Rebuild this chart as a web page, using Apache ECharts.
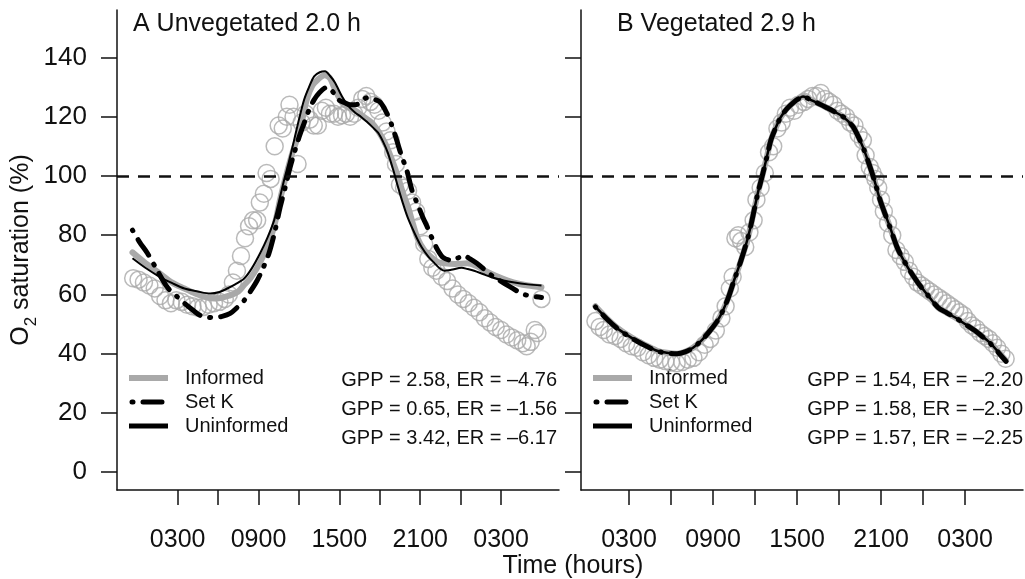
<!DOCTYPE html>
<html><head><meta charset="utf-8">
<script src="https://cdn.jsdelivr.net/npm/echarts@6/dist/echarts.min.js"></script>
<style>html,body{margin:0;padding:0;background:#fff}#c{width:1025px;height:579px}</style>
</head><body><div id="c"></div>
<script>
// ---------- data ----------
const xTickValues = [3, 6, 9, 12, 15, 18, 21, 24, 27];
const xLabelValues = [3, 9, 15, 21, 27];
const xLabelText = ['0300', '0900', '1500', '2100', '0300'];
const yTickValues = [0, 20, 40, 60, 80, 100, 120, 140];
const panelTitles = ['A Unvegetated 2.0 h', 'B Vegetated 2.9 h'];
const legendNames = ['Informed', 'Set K', 'Uninformed'];
const statsA = ['GPP = 2.58, ER = \u20134.76', 'GPP = 0.65, ER = \u20131.56', 'GPP = 3.42, ER = \u20136.17'];
const statsB = ['GPP = 1.54, ER = \u20132.20', 'GPP = 1.58, ER = \u20132.30', 'GPP = 1.57, ER = \u20132.25'];
const saturationLine = 100;

// Panel A observations [hour, O2 %]
const aObs = [[-0.3,65.5],[0.1,65],[0.5,64],[0.9,63],[1.3,62],[1.7,59.5],[2.1,58],[2.5,57],[2.9,58],[3.3,57.5],[3.7,56.5],[4.1,56],[4.5,55.5],[4.9,55.8],[5.3,56.5],[5.7,57],[6.1,57.5],[6.5,58.5],[6.8,60],[7.1,64],[7.4,68],[7.7,73],[8.0,79],[8.3,83],[8.6,85],[8.9,85],[9.1,91],[9.4,94],[9.6,101],[9.9,99],[10.2,110],[10.5,117],[10.8,116],[11.1,120],[11.3,124],[11.6,120],[11.9,104],[12.2,118],[12.5,121],[12.8,119],[13.1,117],[13.4,117],[13.7,122],[14.0,123],[14.3,121],[14.6,121],[14.9,120],[15.2,120.5],[15.5,121],[15.8,120],[16.1,121],[16.4,123],[16.7,126],[17.0,127],[17.3,125],[17.6,124],[17.9,122],[18.2,118],[18.5,115],[18.8,112],[19.0,108],[19.2,104],[19.5,97],[19.8,96],[20.1,95],[20.4,91],[20.7,88],[21.0,83],[21.3,77],[21.6,72],[21.9,69],[22.2,68],[22.6,66],[23.0,64.5],[23.4,62],[23.8,60],[24.2,58.5],[24.6,57],[25.0,55.5],[25.4,54],[25.8,52],[26.2,50.5],[26.6,49],[27.0,48],[27.4,46.5],[27.8,45.5],[28.2,44.5],[28.6,43.5],[28.9,42.5],[29.2,44],[29.5,48],[29.7,47],[30.0,58.5]];
const aInformed = [[-0.35,74.2],[0.5,71],[1.7,67],[2.6,64],[3.5,62],[4.3,60.3],[5.0,59.2],[5.9,58.6],[6.9,59.7],[7.5,61],[7.9,63],[8.4,65.5],[8.9,69],[9.4,73.5],[9.9,79],[10.3,85.5],[10.6,92],[11.1,101],[11.5,107.5],[11.9,113],[12.3,120],[12.6,126],[13.0,130.5],[13.4,132.5],[13.9,134],[14.3,133],[14.6,130],[15.2,124.7],[15.7,123],[16.2,122],[16.8,120],[17.4,118],[17.9,115],[18.4,111],[18.9,105.5],[19.35,99.7],[19.7,94.5],[20.1,89.5],[20.45,84],[20.8,79],[21.3,75],[21.85,72.5],[22.3,71],[22.8,70.5],[23.6,70.3],[24.5,70.5],[25.2,69.5],[25.8,68],[26.6,66.3],[27.5,64.7],[28.3,63.6],[29.0,63],[30.0,62.4]];
const aSetK = [[-0.35,81.7],[0.2,77.5],[0.76,73.9],[1.5,68],[2.24,62.4],[2.9,59.5],[3.5,57],[4.1,54.8],[4.68,52.9],[5.2,52.3],[5.72,52.2],[6.3,52.6],[6.9,53.6],[7.4,55.5],[7.94,58],[8.4,61],[8.9,64.7],[9.35,69],[9.78,73.9],[10.2,81],[10.61,89.5],[11.0,96.5],[11.35,103],[11.7,108.5],[12.02,113.2],[12.4,118],[12.76,122.4],[13.1,125.5],[13.5,128],[14.1,130],[14.67,127.5],[15.0,125.5],[15.4,124.7],[15.8,124],[16.2,124],[16.6,125],[17.05,126.4],[17.5,126],[18.0,125],[18.5,121.4],[18.9,117],[19.26,112],[19.6,107],[20.0,102],[20.4,95],[20.8,90.5],[21.2,86],[21.6,82],[21.94,78.3],[22.3,75],[22.7,72.5],[23.35,71.5],[23.8,72.3],[24.2,73.2],[24.7,72],[25.2,70.5],[25.8,68.3],[26.3,66.4],[27.26,63.7],[27.9,62],[28.5,60.3],[29.2,59.5],[30.0,59]];
const aUninformed = [[-0.35,72.2],[0.6,69],[1.72,65.8],[2.6,63.8],[3.5,62],[4.5,61],[5.42,60.3],[6.1,60.8],[6.68,62],[7.3,63.5],[7.94,65.4],[8.5,68.8],[9.13,74],[9.65,79],[10.16,85],[10.5,91],[10.9,98.6],[11.27,105],[11.64,112],[12.0,119],[12.39,125.8],[12.75,130],[13.13,133.6],[13.55,135],[13.94,135.3],[14.3,133.8],[14.67,131.5],[15.2,126.8],[15.6,124],[16.16,121.4],[16.6,120],[17.1,118],[17.5,116.3],[17.87,114.6],[18.25,111.5],[18.6,107.8],[19.0,102],[19.35,96.3],[19.7,91],[20.07,86],[20.6,80.5],[21.1,76],[21.6,72.8],[22.07,70.5],[22.4,69],[22.8,68],[23.3,68.3],[24.08,69],[24.5,68.6],[25.0,68],[25.7,66.8],[26.3,65.8],[27.1,64.8],[28.0,64],[29.0,63.4],[30.0,63]];

// Panel B observations [hour, O2 %]
const bObs = [[0.6,51],[0.9,49],[1.2,48],[1.6,46.5],[2.0,46],[2.4,45],[2.8,43.5],[3.2,42.5],[3.6,42],[4.0,40.5],[4.4,39.5],[4.8,38.6],[5.2,38],[5.6,37.5],[6.0,37],[6.4,36.8],[6.8,37.2],[7.2,38],[7.6,38.6],[8.0,40.5],[8.4,43],[8.8,45],[9.2,47.8],[9.6,52],[9.9,56],[10.2,62],[10.4,66],[10.6,79],[10.8,80],[11.0,78],[11.3,76],[11.6,81],[11.9,85],[12.1,92],[12.4,96],[12.7,101],[13.0,108],[13.3,110],[13.6,116],[13.9,118],[14.2,121],[14.5,123],[14.8,122],[15.1,124],[15.5,125],[15.8,126],[16.1,127],[16.4,127],[16.7,128],[17.0,126],[17.3,125],[17.6,124],[17.9,122],[18.2,121],[18.5,120],[18.8,118],[19.1,117],[19.4,114],[19.7,112],[19.9,107],[20.2,103],[20.4,101],[20.6,99],[20.8,96],[21.0,92],[21.2,88],[21.5,84],[21.8,80],[22.1,75],[22.4,73],[22.7,71],[23.0,68],[23.3,66],[23.6,64],[23.9,63],[24.2,62],[24.5,61],[24.8,60],[25.1,59],[25.4,58],[25.7,57],[26.0,56],[26.3,55],[26.6,54],[26.9,53],[27.2,51],[27.5,49.5],[27.8,48.5],[28.1,47],[28.4,46],[28.7,45],[29.0,43.5],[29.3,42],[29.6,40],[29.9,38.3]];
const bInformed = [[0.6,56],[1.4,52],[2.14,48.8],[2.9,46.3],[3.57,44.4],[4.3,42.6],[5.0,41],[5.7,40.3],[6.43,40],[7.0,40.6],[7.57,42],[8.2,44.6],[8.79,47.8],[9.3,51],[9.71,54.6],[10.1,59],[10.5,64.7],[11.0,71.5],[11.5,79.3],[11.85,86.5],[12.2,94.2],[12.57,101],[12.85,106.5],[13.14,112.2],[13.5,116.5],[13.86,120],[14.3,122.8],[14.8,125],[15.1,126],[15.43,126.8],[16.0,125.6],[16.6,124.3],[17.14,123],[17.7,121.6],[18.29,120],[18.7,118.2],[19.0,116.6],[19.35,113.5],[19.7,109.8],[20.0,106],[20.36,101],[20.65,96.5],[20.93,91.9],[21.3,87],[21.64,82.7],[22.14,76],[22.5,72.5],[22.93,69],[23.3,66.3],[23.7,63.5],[24.3,60],[25.07,55.6],[25.7,53.8],[26.3,52.2],[27.0,50],[27.7,47.8],[28.3,45.6],[28.86,43.4],[29.4,40.5],[29.93,37.6]];
const bSetK = [[0.6,55.8],[1.4,51.8],[2.14,48.6],[2.9,46.1],[3.57,44.2],[4.3,42.4],[5.0,40.9],[5.7,40.2],[6.43,40],[7.0,40.6],[7.57,42],[8.2,44.6],[8.79,47.8],[9.3,51],[9.71,54.6],[10.1,59],[10.5,64.7],[11.0,71.5],[11.5,79.3],[11.85,86.5],[12.2,94.2],[12.57,101],[12.85,106.5],[13.14,112.2],[13.5,116.5],[13.86,120],[14.3,122.8],[14.8,125],[15.1,126],[15.43,126.8],[16.0,125.6],[16.6,124.3],[17.14,123],[17.7,121.6],[18.29,120],[18.7,118.2],[19.0,116.6],[19.35,113.5],[19.7,109.8],[20.0,106],[20.36,101],[20.65,96.5],[20.93,91.9],[21.3,87],[21.64,82.7],[22.14,76],[22.5,72.5],[22.93,69],[23.3,66.3],[23.7,63.5],[24.3,60],[25.07,55.6],[25.7,53.8],[26.3,52.2],[27.0,50],[27.7,47.8],[28.3,45.5],[28.86,43.2],[29.4,40.3],[29.93,37.4]];
const bUninformed = [[0.6,55.9],[1.4,51.9],[2.14,48.7],[2.9,46.2],[3.57,44.3],[4.3,42.5],[5.0,41],[5.7,40.3],[6.43,40],[7.0,40.6],[7.57,42],[8.2,44.6],[8.79,47.8],[9.3,51],[9.71,54.6],[10.1,59],[10.5,64.7],[11.0,71.5],[11.5,79.3],[11.85,86.5],[12.2,94.2],[12.57,101],[12.85,106.5],[13.14,112.2],[13.5,116.5],[13.86,120],[14.3,122.8],[14.8,125],[15.1,126],[15.43,126.8],[16.0,125.6],[16.6,124.3],[17.14,123],[17.7,121.6],[18.29,120],[18.7,118.2],[19.0,116.6],[19.35,113.5],[19.7,109.8],[20.0,106],[20.36,101],[20.65,96.5],[20.93,91.9],[21.3,87],[21.64,82.7],[22.14,76],[22.5,72.5],[22.93,69],[23.3,66.3],[23.7,63.5],[24.3,60],[25.07,55.6],[25.7,53.8],[26.3,52.2],[27.0,50],[27.7,47.8],[28.3,45.6],[28.86,43.3],[29.4,40.4],[29.93,37.5]];

// ---------- styling ----------
const FONT = '"Liberation Sans", Arial, Helvetica, sans-serif';
const INK = '#111';
const GREY = '#a9a9a9';
const DOTDASH = [1, 10, 19, 10];
const grids = [
  {left: 117, top: 10, width: 442, height: 480},
  {left: 581, top: 10, width: 442, height: 480}
];
const xRanges = [[-1.5, 31.3], [-0.43, 31.14]];

function xAxis(i) {
  return {
    type: 'value', gridIndex: i, min: xRanges[i][0], max: xRanges[i][1],
    axisLine: {show: true, onZero: false, lineStyle: {color: INK, width: 1.5}},
    axisTick: {show: true, length: 15, inside: false, customValues: xTickValues, lineStyle: {color: INK, width: 1.5}},
    axisLabel: {show: true, customValues: xLabelValues, margin: 38, fontSize: 25, color: INK, fontFamily: FONT,
      formatter: v => xLabelText[xLabelValues.indexOf(v)] || ''},
    splitLine: {show: false}
  };
}
function yAxis(i) {
  const ax = {
    type: 'value', gridIndex: i, min: -6, max: 156,
    axisLine: {show: true, onZero: false, lineStyle: {color: INK, width: 1.5}},
    axisTick: {show: true, length: 16, inside: false, customValues: yTickValues, lineStyle: {color: INK, width: 1.5}},
    axisLabel: {show: i === 0, customValues: yTickValues, margin: 30, fontSize: 26, color: INK, fontFamily: FONT},
    splitLine: {show: false}
  };
  if (i === 0) {
    ax.name = '{n|O}{s|2}{n| saturation (%)}';
    ax.nameLocation = 'middle';
    ax.nameRotate = 90;
    ax.nameGap = 81;
    ax.nameTextStyle = {color: INK, fontFamily: FONT, rich: {
      n: {fontSize: 25, color: INK, fontFamily: FONT, lineHeight: 30, verticalAlign: 'bottom'},
      s: {fontSize: 17, color: INK, fontFamily: FONT, lineHeight: 30, verticalAlign: 'bottom', padding: [0, 0, -6, 0]}
    }};
  }
  return ax;
}
function panelSeries(i, obs, inf, setk, uninf) {
  return [
    {type: 'scatter', xAxisIndex: i, yAxisIndex: i, data: obs, symbol: 'circle', symbolSize: 17,
      itemStyle: {color: 'rgba(255,255,255,0)', borderColor: GREY, borderWidth: 1.5}, z: 2,
      markLine: {silent: true, symbol: 'none', label: {show: false}, animation: false,
        lineStyle: {color: INK, type: [12, 9], width: 2.5}, data: [{yAxis: saturationLine}]}},
    {type: 'line', xAxisIndex: i, yAxisIndex: i, data: inf, showSymbol: false, smooth: 0.3, z: 3,
      lineStyle: {color: GREY, width: 6, cap: 'round', join: 'round'}},
    {type: 'line', xAxisIndex: i, yAxisIndex: i, data: setk, showSymbol: false, smooth: 0.3, z: 4,
      lineStyle: {color: '#000', width: 5, type: DOTDASH, cap: 'round', join: 'round'}},
    {type: 'line', xAxisIndex: i, yAxisIndex: i, data: uninf, showSymbol: false, smooth: 0.3, z: 5,
      lineStyle: {color: '#000', width: i === 0 ? 2 : 2.5, join: 'round'}}
  ];
}

// legends & annotations (layout graphics)
const graphics = [];
const legendX = [129, 593], legendTextX = [185, 649], legendY = [378, 402, 426];
const statsRight = [557, 1023], statsY = [380, 409, 438];
const titleX = [133, 617];
[0, 1].forEach(p => {
  graphics.push({type: 'text', left: titleX[p], top: 12, style: {text: panelTitles[p], fontSize: 25, fontFamily: FONT, fill: INK}});
  legendNames.forEach((nm, k) => {
    const st = k === 0 ? {stroke: GREY, lineWidth: 6} : (k === 1 ? {stroke: '#000', lineWidth: 5, lineDash: DOTDASH, lineCap: 'round'} : {stroke: '#000', lineWidth: 5});
    graphics.push({type: 'line', shape: {x1: legendX[p] + (k === 1 ? 3 : 0), y1: legendY[k], x2: legendX[p] + 39 - (k === 1 ? 3 : 0), y2: legendY[k]}, style: st});
    graphics.push({type: 'text', x: legendTextX[p], y: legendY[k], style: {text: nm, fontSize: 20, fontFamily: FONT, fill: INK, textVerticalAlign: 'middle', verticalAlign: 'middle'}});
  });
  const stats = p === 0 ? statsA : statsB;
  stats.forEach((s, k) => {
    graphics.push({type: 'text', x: statsRight[p], y: statsY[k], style: {text: s, fontSize: 20, fontFamily: FONT, fill: INK, align: 'right', textAlign: 'right', verticalAlign: 'middle', textVerticalAlign: 'middle'}});
  });
});
graphics.push({type: 'text', x: 573, y: 566, style: {text: 'Time (hours)', fontSize: 25, fontFamily: FONT, fill: INK, align: 'center', textAlign: 'center', verticalAlign: 'middle', textVerticalAlign: 'middle'}});

const chart = echarts.init(document.getElementById('c'), null, {renderer: 'canvas'});
chart.setOption({
  animation: false,
  backgroundColor: '#fff',
  grid: grids.map(g => Object.assign({outerBoundsMode: 'none', containLabel: false}, g)),
  xAxis: [xAxis(0), xAxis(1)],
  yAxis: [yAxis(0), yAxis(1)],
  series: [].concat(panelSeries(0, aObs, aInformed, aSetK, aUninformed), panelSeries(1, bObs, bInformed, bSetK, bUninformed)),
  graphic: graphics
});
</script></body></html>
